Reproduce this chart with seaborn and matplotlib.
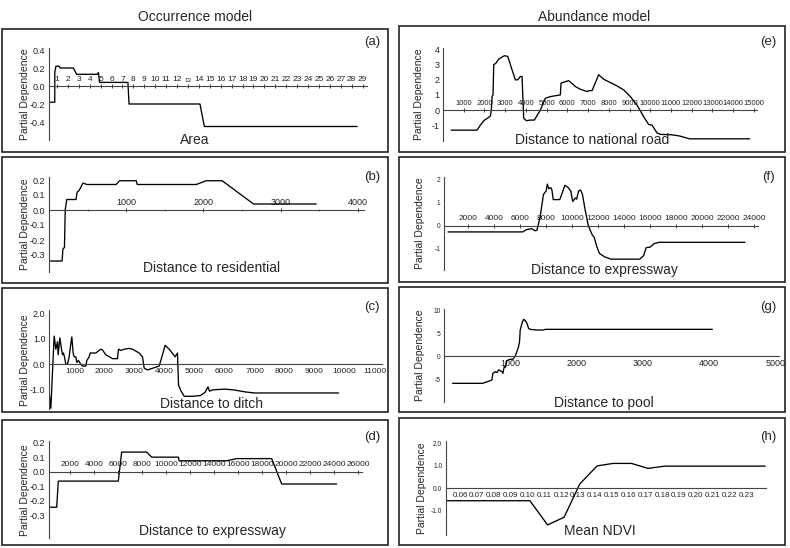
import matplotlib
matplotlib.use("Agg")
import matplotlib.pyplot as plt
from matplotlib.patches import Rectangle
from matplotlib.ticker import MultipleLocator, FixedLocator, FormatStrFormatter
import seaborn as sns

# ---- values ----
# (a) Area
area_x = [0.27, 0.8, 0.8, 0.9, 1.2, 1.3, 2.5, 2.8, 4.7, 4.8, 4.9, 7.5, 7.6, 14.1, 14.5, 28.5]
area_y = [-0.18, -0.18, 0.15, 0.22, 0.22, 0.2, 0.2, 0.13, 0.13, 0.15, 0.04, 0.04, -0.2, -0.2, -0.45, -0.45]

# (b) Distance to residential
res_x = [0, 170, 180, 200, 210, 230, 350, 365, 390, 440, 490, 870, 913, 1130, 1143, 1907, 2036, 2243, 2649, 3461]
res_y = [-0.34, -0.34, -0.26, -0.25, 0.0, 0.07, 0.07, 0.12, 0.13, 0.18, 0.17, 0.17, 0.195, 0.195, 0.17, 0.17,
         0.195, 0.195, 0.04, 0.04]

# (c) Distance to ditch
ditch_x = [150, 211, 322, 378, 433, 456, 511, 567, 600, 633, 678, 711, 767, 822, 878, 911, 955, 989, 1044, 1078,
           1133, 1211, 1267, 1378, 1411, 1489, 1522, 1711, 1878, 1933, 2044, 2267, 2433, 2467, 2544, 2656, 2822,
           2933, 3156, 3267, 3322, 3433, 3822, 3878, 4022, 4156, 4356, 4433, 4467, 4544, 4656, 4933, 5200, 5350,
           5450, 5500, 5600, 6000, 6300, 6700, 7000, 9800]
ditch_y = [-1.03, -1.72, 1.10, 0.59, 0.88, 0.37, 1.03, 0.59, 0.37, 0.44, 0.22, 0.0, 0.0, 0.29, 0.81, 1.07, 0.44,
           0.29, 0.29, 0.07, 0.15, 0.0, -0.07, -0.07, 0.15, 0.29, 0.44, 0.44, 0.59, 0.56, 0.37, 0.22, 0.22, 0.59,
           0.54, 0.59, 0.62, 0.59, 0.44, 0.29, -0.15, -0.22, -0.07, 0.15, 0.74, 0.59, 0.29, 0.44, -0.81, -1.03,
           -1.25, -1.25, -1.22, -1.1, -0.88, -1.05, -1.0, -0.97, -1.0, -1.08, -1.12, -1.12]

# (d) Distance to expressway (occurrence)
expo_x = [250, 890, 1025, 6020, 6300, 8380, 8800, 11020, 11080, 15040, 15880, 18790, 19620, 24200]
expo_y = [-0.245, -0.245, -0.065, -0.065, 0.135, 0.135, 0.10, 0.10, 0.075, 0.075, 0.09, 0.09, -0.085, -0.085]

# (e) Distance to national road
road_x = [389, 1643, 1804, 1965, 2206, 2286, 2334, 2367, 2415, 2447, 2559, 2688, 2849, 2961, 3122, 3331, 3492,
          3605, 3733, 3813, 3894, 4023, 4215, 4408, 4698, 4939, 5180, 5662, 5695, 6064, 6386, 6627, 6949, 7029,
          7190, 7511, 7752, 8074, 8395, 8717, 9039, 9360, 9682, 9923, 10084, 10325, 10500, 11000, 11400, 11900,
          14800]
road_y = [-1.32, -1.32, -0.99, -0.70, -0.48, -0.40, 0.0, 0.88, 0.99, 2.97, 3.08, 3.34, 3.47, 3.56, 3.52, 2.64,
          1.98, 1.98, 2.20, 2.20, -0.55, -0.70, -0.66, -0.66, 0.0, 0.77, 0.88, 0.99, 1.76, 1.93, 1.54, 1.36, 1.21,
          1.27, 1.27, 2.31, 2.02, 1.80, 1.58, 1.32, 0.88, 0.33, -0.44, -0.95, -0.99, -1.50, -1.60, -1.62, -1.70,
          -1.89, -1.89]

# (f) Distance to expressway (abundance)
expa_x = [460, 6200, 6500, 6900, 7150, 7300, 7550, 7800, 8000, 8100, 8200, 8350, 8450, 8550, 9050, 9200, 9450,
          9700, 9900, 10050, 10250, 10350, 10500, 10650, 10800, 11000, 11250, 11550, 11700, 11900, 12100, 12500,
          13000, 15200, 15500, 15700, 16000, 16300, 16700, 23300]
expa_y = [-0.27, -0.27, -0.17, -0.13, -0.22, -0.2, 0.4, 1.35, 1.5, 1.8, 1.6, 1.65, 1.55, 1.13, 1.13, 1.35, 1.75,
          1.65, 1.5, 1.05, 1.2, 1.15, 1.5, 1.55, 1.35, 0.7, 0.0, -0.4, -0.5, -0.9, -1.2, -1.35, -1.45, -1.45, -1.3,
          -0.95, -0.93, -0.78, -0.72, -0.72]

# (g) Distance to pool
pool_x = [130, 582, 698, 723, 738, 774, 799, 824, 874, 889, 909, 925, 950, 1000, 1040, 1075, 1100, 1125, 1140,
          1150, 1176, 1201, 1226, 1252, 1277, 1302, 1402, 1503, 1528, 4050]
pool_y = [-5.94, -5.94, -5.36, -5.2, -3.77, -3.4, -3.6, -3.0, -3.4, -3.77, -2.3, -2.5, -1.0, -0.7, -0.7, 0.0,
          0.94, 2.0, 3.1, 5.65, 7.1, 7.97, 7.7, 7.1, 6.0, 5.8, 5.65, 5.65, 5.8, 5.8]

# (h) Mean NDVI
ndvi_x = [0.0515, 0.1015, 0.112, 0.1218, 0.1311, 0.1414, 0.1509, 0.1618, 0.1716, 0.1815, 0.2412]
ndvi_y = [-0.55, -0.55, -1.62, -1.28, 0.19, 0.99, 1.1, 1.1, 0.88, 0.98, 0.98]

area_ticks = list(range(1, 30))
ndvi_ticks = [0.06, 0.07, 0.08, 0.09, 0.10, 0.11, 0.12, 0.13, 0.14, 0.15, 0.16, 0.17, 0.18, 0.19, 0.20, 0.21,
              0.22, 0.23]

sns.set_style("white")
plt.rcParams['font.family'] = ['Liberation Sans', 'DejaVu Sans']
plt.rcParams['axes.unicode_minus'] = False

W, H = 790, 548
fig = plt.figure(figsize=(W / 100, H / 100), dpi=100)


def box(x0, y0, x1, y1):
    fig.add_artist(Rectangle((x0 / W, 1 - y1 / H), (x1 - x0) / W, (y1 - y0) / H, transform=fig.transFigure,
                             fill=False, edgecolor='#222222', linewidth=1.2))


def panel(px, xs, ys, xlim, ylim, xticks, xfmt, yticks, yfmt, above=True, xminor=None, yminor=None,
          xsize=6, ysize=6.5, letter='', xlabel='', lab_x=0, lab_y=0, let_x=0, let_y=0):
    l, t, r, b = px
    ax = fig.add_axes([l / W, 1 - b / H, (r - l) / W, (b - t) / H])
    ax.set_facecolor('none')
    sns.lineplot(x=xs, y=ys, ax=ax, color='black', linewidth=0.95, estimator=None, sort=False)
    ax.set_xlim(*xlim)
    ax.set_ylim(*ylim)
    ax.set_xlabel('')
    ax.set_ylabel('')
    ax.spines['right'].set_visible(False)
    if above:
        ax.spines['bottom'].set_visible(False)
        ax.spines['top'].set_position(('data', 0))
        ax.xaxis.tick_top()
    else:
        ax.spines['top'].set_visible(False)
        ax.spines['bottom'].set_position(('data', 0))
    for s in ['left', 'top', 'bottom']:
        ax.spines[s].set_color('#444444')
        ax.spines[s].set_linewidth(0.8)
    ax.xaxis.set_major_locator(FixedLocator(xticks))
    ax.xaxis.set_major_formatter(FormatStrFormatter(xfmt))
    ax.yaxis.set_major_locator(FixedLocator(yticks))
    ax.yaxis.set_major_formatter(FormatStrFormatter(yfmt))
    if xminor:
        ax.xaxis.set_minor_locator(MultipleLocator(xminor))
    if yminor:
        ax.yaxis.set_minor_locator(MultipleLocator(yminor))
    ax.tick_params(axis='x', which='major', direction='inout', length=3, width=0.6, pad=1, labelsize=xsize,
                   colors='#222222')
    ax.tick_params(axis='x', which='minor', direction='inout', length=2, width=0.5, colors='#444444')
    ax.tick_params(axis='y', which='major', direction='inout', length=3, width=0.6, pad=1, labelsize=ysize,
                   colors='#222222')
    ax.tick_params(axis='y', which='minor', direction='inout', length=2, width=0.5, colors='#444444')
    fig.text(lab_x / W, 1 - lab_y / H, xlabel, ha='center', va='center', fontsize=10)
    fig.text(let_x / W, 1 - let_y / H, letter, ha='center', va='center', fontsize=9.5)
    fig.text((l - 24) / W, 1 - (t + b) / 2 / H, 'Partial Dependence', rotation=90, ha='center', va='center',
             fontsize=7.5)
    return ax


# boxes
for (x0, y0, x1, y1) in [(2, 29, 388, 152), (2, 157, 388, 283), (2, 288, 388, 412), (2, 420, 388, 545),
                         (399, 26, 785, 152), (399, 157, 785, 282), (399, 287, 785, 412), (399, 418, 785, 545)]:
    box(x0, y0, x1, y1)

fig.text(195 / W, 1 - 17 / H, 'Occurrence model', ha='center', va='center', fontsize=10)
fig.text(594 / W, 1 - 17 / H, 'Abundance model', ha='center', va='center', fontsize=10)

ax_a = panel((49, 48.2, 367, 140), area_x, area_y, (0.27, 29.4), (-0.6, 0.42), area_ticks, '%d',
             [-0.4, -0.2, 0.0, 0.2, 0.4], '%.1f', yminor=0.1, letter='(a)', xlabel='Area',
             lab_x=195, lab_y=140, let_x=372, let_y=42)
for lab in ax_a.get_xticklabels():
    if lab.get_text() == '13':
        lab.set_fontsize(4.5)

panel((49, 177, 364, 271.5), res_x, res_y, (0, 4080), (-0.41, 0.22), [1000, 2000, 3000, 4000], '%d',
      [-0.3, -0.2, -0.1, 0.0, 0.1, 0.2], '%.1f', xminor=500, yminor=0.05, xsize=6.5, letter='(b)',
      xlabel='Distance to residential', lab_x=212, lab_y=268, let_x=372, let_y=177)

panel((49, 310.5, 382, 409.1), ditch_x, ditch_y, (150, 11250), (-1.75, 2.1), list(range(1000, 12000, 1000)),
      '%d', [-1.0, 0.0, 1.0, 2.0], '%.1f', above=False, yminor=0.5, letter='(c)', xlabel='Distance to ditch',
      lab_x=212, lab_y=404, let_x=372, let_y=307)

panel((49, 441.2, 361.9, 538.4), expo_x, expo_y, (250, 26300), (-0.46, 0.21), list(range(2000, 28000, 2000)),
      '%d', [-0.3, -0.2, -0.1, 0.0, 0.1, 0.2], '%.1f', yminor=0.05, letter='(d)',
      xlabel='Distance to expressway', lab_x=212, lab_y=531, let_x=372, let_y=437)

panel((443, 47.5, 757, 140.5), road_x, road_y, (0, 15150), (-2.0, 4.1), list(range(1000, 16000, 1000)), '%d',
      [-1, 0, 1, 2, 3, 4], '%d', yminor=0.5, xsize=5.5, letter='(e)', xlabel='Distance to national road',
      lab_x=592, lab_y=140, let_x=768, let_y=42)

panel((444, 177.2, 758, 270), expa_x, expa_y, (150, 24300), (-1.92, 2.1), list(range(2000, 26000, 2000)), '%d',
      [-1, 0, 1, 2], '%d', yminor=0.5, ysize=4.8, letter='(f)', xlabel='Distance to expressway',
      lab_x=604, lab_y=270, let_x=768, let_y=177)

panel((444, 309.1, 778.6, 402), pool_x, pool_y, (0, 5050), (-10, 10.2), [1000, 2000, 3000, 4000, 5000], '%d',
      [-5, 0, 5, 10], '%d', above=False, xminor=500, yminor=2.5, xsize=6.5, ysize=4.8, letter='(g)',
      xlabel='Distance to pool', lab_x=604, lab_y=403, let_x=768, let_y=307)

panel((445.7, 440.8, 765.7, 535.1), ndvi_x, ndvi_y, (0.0515, 0.2415), (-2.07, 2.1), ndvi_ticks, '%.2f',
      [-1.0, 0.0, 1.0, 2.0], '%.1f', above=False, xminor=0.005, yminor=0.5, xsize=5.8, ysize=4.8, letter='(h)',
      xlabel='Mean NDVI', lab_x=600, lab_y=531, let_x=768, let_y=437)

fig.savefig('out.png', dpi=100)
